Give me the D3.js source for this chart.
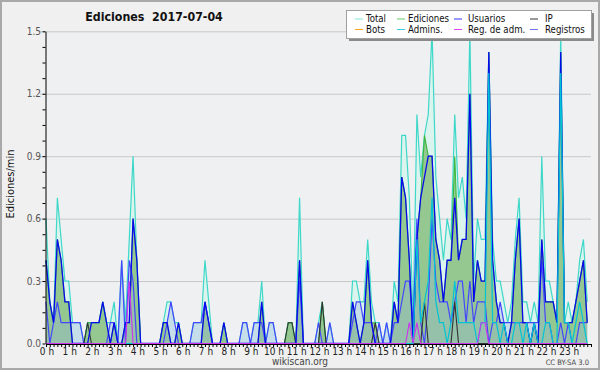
<!DOCTYPE html>
<html>
<head>
<meta charset="utf-8">
<script src="https://cdnjs.cloudflare.com/ajax/libs/d3/7.8.5/d3.min.js"></script>
<style>
body { margin: 0; background: #f0f0f0; }
svg { display: block; font-family: "DejaVu Sans Condensed", "DejaVu Sans", sans-serif; font-stretch: condensed; }
</style>
</head>
<body>
<svg id="chart" width="600" height="370"></svg>
<script>
// one value every 10 minutes (edits per minute), 144 bins over the day
const total = [
  .6,.2,.1,.7,.5,.3,.3,.1,.1,.1,  0,.1,.1,.1,.1,.2,.1,.1,.2,0,
  .4,.1,.5,.9,.4,0,0,0,0,0,  0,.1,.2,.2,.1,.1,0,0,0,.1,
  .1,.1,.4,.2,0,0,0,.1,0,0,  0,0,.1,.1,0,.1,.1,.3,0,.1,
  .1,0,0,0,.1,.1,0,.7,0,0,  0,0,.1,.2,0,.1,0,0,0,0,
  0,.3,.3,.2,.2,.5,.2,.1,.1,0,  .1,0,.3,.2,1.0,1.0,.7,.1,1.1,.8,
  1.0,1.1,1.5,.8,.6,.4,.6,.5,1.1,.7,  .8,.6,1.5,.3,.6,.5,.5,1.4,.5,.3,
  .3,.2,.1,.2,.5,.7,.2,.2,.1,.2,  .1,.9,.3,.3,.2,.1,1.5,.1,.2,.1,
  .2,.4,.5,.2
]
const ediciones = [
  .4,.2,.1,.5,.4,.2,.2,0,0,0,  0,.1,.1,.1,.1,.2,.1,0,.1,0,
  0,.1,.1,.6,.4,0,0,0,0,0,  0,.1,.1,0,0,.1,0,0,0,0,
  0,0,.2,.1,0,0,0,.1,0,0,  0,0,0,0,0,0,0,.2,0,0,
  0,0,0,0,.1,.1,0,.4,0,0,  0,0,0,.2,0,0,0,0,0,0,
  0,.2,.1,0,.1,.4,.1,.1,0,0,  0,0,.2,.1,.8,.7,.4,0,.5,.7,
  1.0,.9,.9,.5,.4,.2,.4,.4,.9,.4,  .5,.5,1.2,.2,.4,.3,.3,1.4,.4,.2,
  .1,.1,0,.1,.4,.6,.1,.1,0,.1,  0,.5,.2,.2,.2,.1,1.4,.1,.1,.1,
  .2,.3,.4,.1
]
const usuarios = [
  .4,.2,.1,.5,.4,.2,.2,0,0,0,  0,0,.1,.1,.1,.2,.1,0,.1,0,
  0,.1,.1,.6,.4,0,0,0,0,0,  0,.1,.1,0,0,.1,0,0,0,0,
  0,0,.2,.1,0,0,0,.1,0,0,  0,0,0,0,0,0,0,.2,0,0,
  0,0,0,0,0,0,0,.4,0,0,  0,0,0,0,0,0,0,0,0,0,
  0,.2,.1,0,.1,.4,.1,0,0,0,  0,0,.2,.1,.8,.7,.4,0,.5,.7,
  .8,.9,.9,.5,.4,.2,.4,.4,.7,.4,  .5,.5,1.2,.2,.4,.3,.3,1.4,.4,.2,
  .1,.1,0,.1,.4,.6,.1,.1,0,.1,  0,.5,.2,.2,.2,.1,1.4,.1,.1,.1,
  .2,.3,.4,.1
]
const ip = [
  0,0,0,0,0,0,0,0,0,0,  0,.1,0,0,0,0,0,0,0,0,
  0,0,0,0,0,0,0,0,0,0,  0,0,0,0,0,0,0,0,0,0,
  0,0,0,0,0,0,0,0,0,0,  0,0,0,0,0,0,0,0,0,0,
  0,0,0,0,.1,.1,0,0,0,0,  0,0,0,.2,0,0,0,0,0,0,
  0,0,0,0,0,0,0,.1,0,0,  0,0,0,0,0,0,0,0,0,0,
  .2,0,0,0,0,0,0,0,.2,0,  0,0,0,0,0,0,0,0,0,0,
  0,0,0,0,0,0,0,0,0,0,  0,0,0,0,0,0,0,0,0,0,
  0,0,0,0
]
const bots = [
  0,0,0,0,0,0,0,0,0,0,  0,0,0,0,0,0,0,0,0,0,
  0,0,0,0,0,0,0,0,0,0,  0,0,0,0,0,0,0,0,0,0,
  0,0,0,0,0,0,0,0,0,0,  0,0,0,0,0,0,0,0,0,0,
  0,0,0,0,0,0,0,0,0,0,  0,0,0,0,0,0,0,0,0,0,
  0,0,0,0,0,0,0,0,0,0,  0,0,0,0,0,0,0,0,0,0,
  0,0,0,0,0,0,0,0,0,0,  0,0,0,0,0,0,0,0,0,0,
  0,0,0,0,0,0,0,0,0,0,  0,0,0,0,0,0,0,0,0,0,
  0,0,0,0
]
const admins = [
  0,0,0,0,0,0,0,0,0,0,  0,0,0,0,0,0,0,0,0,0,
  0,0,0,0,0,0,0,0,0,0,  0,0,0,0,0,0,0,0,0,0,
  0,0,0,0,0,0,0,0,0,0,  0,0,0,0,0,0,0,0,0,0,
  0,0,0,0,0,0,0,0,0,0,  0,0,0,0,0,0,0,0,0,0,
  0,0,0,0,0,0,0,0,0,0,  0,0,0,0,0,0,0,0,.5,.1,
  .2,.3,.7,.2,.1,.1,0,.1,.3,.1,  .1,.1,.1,.1,0,.1,.1,1.3,.1,.1,
  0,.1,0,0,.1,.1,0,.1,0,.1,  0,0,.1,.1,0,0,1.3,.1,.1,0,
  .1,.2,.1,0
]
const regAdm = [
  0,0,0,0,0,0,0,0,0,0,  0,0,0,0,0,0,0,0,0,0,
  0,0,.3,0,0,0,0,0,0,0,  0,0,0,0,0,0,0,0,0,0,
  0,0,0,0,0,0,0,0,0,0,  0,0,0,0,0,0,0,0,0,0,
  0,0,0,0,0,0,0,0,0,0,  0,0,0,0,0,0,0,0,0,0,
  0,0,0,0,0,0,0,0,0,0,  0,0,0,0,0,0,.1,0,.1,0,
  0,0,0,0,0,0,0,0,0,0,  0,0,0,0,0,.1,.1,0,0,0,
  0,0,0,0,0,0,0,0,0,0,  0,0,0,0,0,0,0,0,0,0,
  0,0,0,0
]
const registros = [
  .2,0,.1,.2,.1,.1,.1,.1,.1,.1,  0,0,0,0,0,0,0,.1,.1,0,
  .4,0,.4,.3,0,0,0,0,0,0,  0,0,.1,.2,.1,0,0,0,0,.1,
  .1,.1,.2,.1,0,0,0,0,0,0,  0,0,.1,.1,0,.1,.1,.1,0,.1,
  .1,0,0,0,0,0,0,.3,0,0,  0,0,.1,0,0,.1,0,0,0,0,
  0,.1,.2,.2,.1,.1,.1,0,.1,0,  .1,0,.1,.1,.2,.3,.3,.1,.6,.1,
  0,.2,.6,.3,.2,.2,.2,.1,.2,.3,  .3,.1,.3,.1,.2,.2,.2,0,.1,.1,
  .2,.1,.1,.1,.1,.1,.1,.1,.1,.1,  .1,.4,.1,.1,0,0,.1,0,.1,0,
  0,.1,.1,.1
]
const hourLabels = d3.range(24).map(h => h + ' h')
const yTicks = [0, 0.3, 0.6, 0.9, 1.2, 1.5]

const legendItems = [
  { name: 'Total', color: '#7fe6dc' }, { name: 'Ediciones', color: '#66cc66' },
  { name: 'Usuarios', color: '#3333ff' }, { name: 'IP', color: '#333333' },
  { name: 'Bots', color: '#ffa31a' }, { name: 'Admins.', color: '#33d0e0' },
  { name: 'Reg. de adm.', color: '#dd44ff' }, { name: 'Registros', color: '#6f6fff' }
]

const svg = d3.select('#chart')
const x = d3.scaleLinear().domain([0, 24]).range([46, 591])
const y = d3.scaleLinear().domain([0, 1.5]).range([343.5, 31.3])
const px = (d, i) => x(i / 6)

// frame
svg.append('rect').attr('x', 1).attr('y', 1).attr('width', 598).attr('height', 368)
    .attr('fill', '#f0f0f0').attr('stroke', '#a9a9a9').attr('stroke-width', 2)
svg.append('rect').attr('x', x(0)).attr('y', y(1.5))
    .attr('width', x(24) - x(0)).attr('height', y(0) - y(1.5)).attr('fill', '#eef0f2')

// grid
svg.append('g').selectAll('line').data(yTicks.filter(d => d > 0)).enter().append('line')
    .attr('x1', 40).attr('x2', x(24))
    .attr('y1', d => y(d) + 0.5).attr('y2', d => y(d) + 0.5)
    .attr('stroke', '#c8c8c8')

const area = vals => d3.area().x(px).y0(y(0)).y1(d => y(d))(vals)
const line = vals => d3.line().x(px).y(d => y(d))(vals)

// fills
svg.append('path').attr('d', area(total)).attr('fill', '#dcf4ee')
svg.append('path').attr('d', area(ediciones)).attr('fill', 'rgba(89,164,67,0.55)')
svg.append('path').attr('d', area(registros)).attr('fill', 'rgba(153,177,225,0.32)')

// lines
const series = [
  [bots, '#ffa31a', 1],
  [total, '#3ed8c8', 1.2],
  [ediciones, '#3cb83c', 1.1],
  [registros, '#4646ff', 1.2],
  [ip, '#333333', 1.1],
  [usuarios, '#0808ee', 1.3],
  [admins, '#00c4d6', 1.2],
  [regAdm, '#cc33ee', 1.1]
]
svg.append('g').selectAll('path').data(series).enter().append('path')
    .attr('d', d => line(d[0]))
    .attr('fill', 'none')
    .attr('stroke', d => d[1])
    .attr('stroke-width', d => d[2])
    .attr('stroke-linejoin', 'miter')

// axes
const yAxis = svg.append('g').attr('transform', 'translate(45.5,0)')
    .call(d3.axisLeft(y).tickValues(d3.range(0, 1.5001, 0.075)).tickSize(3).tickSizeOuter(0).tickFormat(''))
yAxis.selectAll('path,line').attr('stroke', '#000')

const xAxis = svg.append('g').attr('transform', `translate(0,${y(0) + 0.5})`)
    .call(d3.axisBottom(x).tickValues(d3.range(0, 24.01, 1 / 6)).tickSize(3).tickSizeOuter(0).tickFormat(''))
xAxis.selectAll('path,line').attr('stroke', '#000')

svg.append('g').selectAll('text').data(yTicks).enter().append('text')
    .attr('x', 41).attr('y', d => y(d) + 3.5)
    .attr('text-anchor', 'end').attr('font-size', 10).attr('fill', '#555')
    .text(d => d.toFixed(1))

svg.append('g').selectAll('text').data(hourLabels).enter().append('text')
    .attr('x', (d, i) => x(i) + 1).attr('y', 354.5)
    .attr('text-anchor', 'middle').attr('font-size', 10).attr('fill', '#222')
    .text(d => d)

// titles
svg.append('text').attr('x', 154).attr('y', 21).attr('text-anchor', 'middle')
    .attr('font-size', 12.3).attr('font-weight', 'bold').attr('fill', '#111')
    .style('white-space', 'pre').text('Ediciones  2017-07-04')
svg.append('text').attr('transform', 'translate(13.5,184) rotate(-90)')
    .attr('text-anchor', 'middle').attr('font-size', 11).attr('fill', '#111')
    .text('Ediciones/min')
svg.append('text').attr('x', 300).attr('y', 364.5).attr('text-anchor', 'middle')
    .attr('font-size', 10).attr('fill', '#444').text('wikiscan.org')
svg.append('text').attr('x', 589).attr('y', 364.5).attr('text-anchor', 'end')
    .attr('font-size', 7.5).attr('fill', '#444').text('CC BY-SA 3.0')

// legend
svg.append('rect').attr('x', 349).attr('y', 13).attr('width', 245).attr('height', 28).attr('fill', '#8a8a8a')
svg.append('rect').attr('x', 346.5).attr('y', 10.5).attr('width', 245).attr('height', 28)
    .attr('fill', '#fff').attr('stroke', '#a0a0a0')
const colSw = [355, 397, 454, 530]
const colTx = [366, 408, 468, 545]
const leg = svg.append('g').selectAll('g').data(legendItems).enter().append('g')
leg.append('line')
    .attr('x1', (d, i) => colSw[i % 4]).attr('x2', (d, i) => colSw[i % 4] + 8)
    .attr('y1', (d, i) => i < 4 ? 19 : 29.5).attr('y2', (d, i) => i < 4 ? 19 : 29.5)
    .attr('stroke', d => d.color)
leg.append('text')
    .attr('x', (d, i) => colTx[i % 4]).attr('y', (d, i) => i < 4 ? 22 : 33)
    .attr('font-size', 9.6).attr('fill', '#111')
    .text(d => d.name)
</script>
</body>
</html>
